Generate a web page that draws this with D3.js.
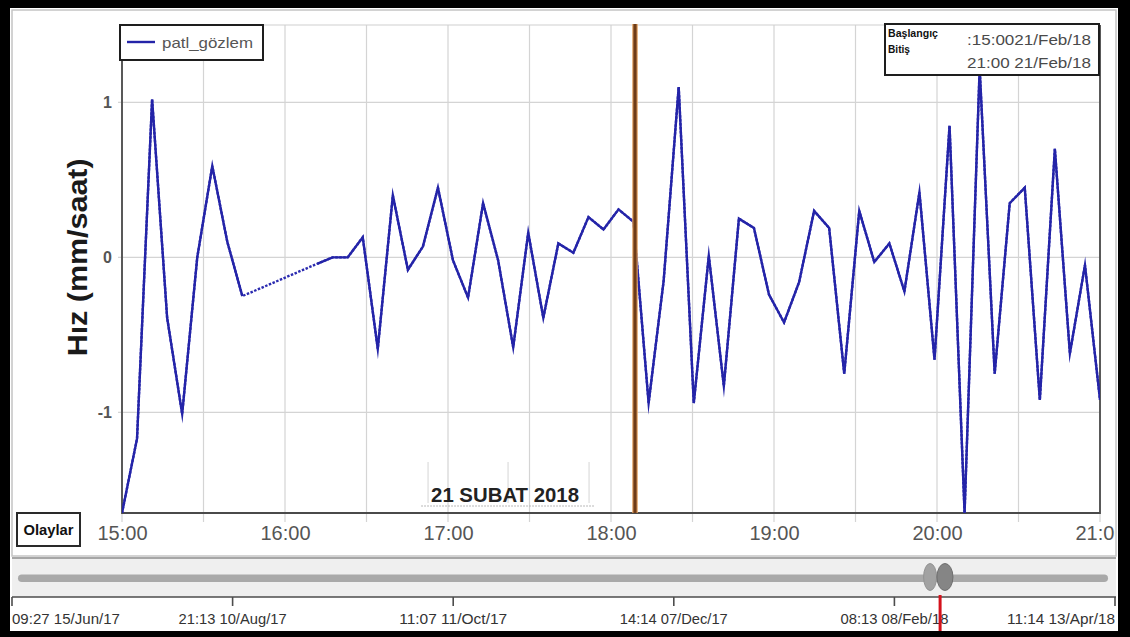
<!DOCTYPE html>
<html>
<head>
<meta charset="utf-8">
<script src="https://cdn.jsdelivr.net/npm/d3@7"></script>
<style>
  html, body { margin: 0; padding: 0; background: #000; }
  svg { display: block; font-family: "Liberation Sans", Arial, sans-serif; }
</style>
</head>
<body>
<svg id="chart" width="1130" height="637"></svg>
<script>
// Observation series: sample times on 21 Feb 2018 and velocity values (mm/saat).
// null marks samples with no reading; the gap is bridged with a dotted line.
const sampleTimes = [
  "15:00:00","15:05:32","15:11:05","15:16:37","15:22:09","15:27:42","15:33:14","15:38:46","15:44:18",
  "15:49:51","15:55:23","16:00:55","16:06:28",
  "16:12:00","16:17:32","16:23:05","16:28:37","16:34:09","16:39:42","16:45:14","16:50:46","16:56:18",
  "17:01:51","17:07:23","17:12:55","17:18:28","17:24:00","17:29:32","17:35:05","17:40:37","17:46:09",
  "17:51:42","17:57:14","18:02:46","18:08:18","18:13:51","18:19:23","18:24:55","18:30:28","18:36:00",
  "18:41:32","18:47:05","18:52:37","18:58:09","19:03:42","19:09:14","19:14:46","19:20:18","19:25:51",
  "19:31:23","19:36:55","19:42:28","19:48:00","19:53:32","19:59:05","20:04:37","20:10:09","20:15:42",
  "20:21:14","20:26:46","20:32:18","20:37:51","20:43:23","20:48:55","20:54:28","21:00:00"
];
const velocity = [
  -1.65, -1.17, 1.02, -0.39, -1.01, 0.00, 0.59, 0.10, -0.25,
  null, null, null, null,
  -0.04, 0.00, 0.00, 0.13, -0.59, 0.40, -0.08, 0.07, 0.45,
  -0.02, -0.26, 0.35, -0.02, -0.58, 0.16, -0.39, 0.09, 0.03,
  0.26, 0.18, 0.31, 0.23, -0.94, -0.15, 1.10, -0.94, 0.01,
  -0.83, 0.25, 0.19, -0.24, -0.42, -0.16, 0.30, 0.19, -0.75,
  0.30, -0.03, 0.09, -0.22, 0.42, -0.66, 0.85, -1.65, 1.22,
  -0.75, 0.35, 0.45, -0.92, 0.70, -0.62, -0.05, -0.92
];
const seriesName = "patl_gözlem";
const dayString = "2018-02-21";
const viewStart = "15:00:00";
const viewEnd = "21:00:00";
const eventTime = "18:08:50";
const eventLabel = "21 SUBAT 2018";
const eventLabelTime = "17:21:00";
const yTicks = [-1, 0, 1];
const yDomain = [-1.65, 1.5];
const yTitle = "Hız (mm/saat)";

// Overview timeline along the bottom slider
const overviewTicks = ["2017-06-15 09:27", "2017-08-10 21:13", "2017-10-11 11:07",
                       "2017-12-07 14:14", "2018-02-08 08:13", "2018-04-13 11:14"];
const overviewLabels = ["09:27 15/Jun/17", "21:13 10/Aug/17", "11:07 11/Oct/17",
                        "14:14 07/Dec/17", "08:13 08/Feb/18", "11:14 13/Apr/18"];
const infoLabels = ["Başlangıç", "Bitiş"];
const infoValues = [":15:0021/Feb/18", "21:00 21/Feb/18"];
const eventsButton = "Olaylar";

const parseFull = d3.timeParse("%Y-%m-%d %H:%M:%S");
const parseOverview = d3.timeParse("%Y-%m-%d %H:%M");
const at = t => parseFull(dayString + " " + t);

const data = sampleTimes.map((t, i) => ({ t: at(t), v: velocity[i] }));

const svg = d3.select("#chart");
const W = 1130, H = 637;
const plot = { left: 122, right: 1100, top: 25, bottom: 513 };

// frame
svg.append("rect").attr("width", W).attr("height", H).attr("fill", "#000");
svg.append("rect").attr("x", 10).attr("y", 8).attr("width", 1108).attr("height", 623).attr("fill", "#fff");
svg.append("rect").attr("x", 12).attr("y", 10).attr("width", 1104).attr("height", 546)
  .attr("fill", "#fff").attr("stroke", "#c4c4c4").attr("stroke-width", 1.5);

const x = d3.scaleTime().domain([at(viewStart), at(viewEnd)]).range([plot.left, plot.right]);
const y = d3.scaleLinear().domain(yDomain).range([plot.bottom, plot.top]);

// grid: vertical every 30 minutes, horizontal at the y ticks
const gridTimes = x.ticks(d3.timeMinute.every(30));
const g = svg.append("g");
g.selectAll("line.vg").data(gridTimes).join("line")
  .attr("x1", d => x(d)).attr("x2", d => x(d))
  .attr("y1", plot.top).attr("y2", plot.bottom + 9)
  .attr("stroke", "#d4d4d4").attr("stroke-width", 1.2);
g.selectAll("line.hg").data(yTicks).join("line")
  .attr("x1", plot.left - 4).attr("x2", plot.right)
  .attr("y1", d => y(d)).attr("y2", d => y(d))
  .attr("stroke", "#d4d4d4").attr("stroke-width", 1.2);

// plot border
svg.append("line").attr("x1", plot.left).attr("x2", plot.right).attr("y1", plot.top).attr("y2", plot.top)
  .attr("stroke", "#cfcfcf").attr("stroke-width", 1.2);
svg.append("path")
  .attr("d", `M${plot.left},${plot.top}V${plot.bottom}H${plot.right}V${plot.top}`)
  .attr("fill", "none").attr("stroke", "#4a4a4a").attr("stroke-width", 1.8);

// event date annotation
const ann = svg.append("g");
const annX = x(at(eventLabelTime));
ann.append("line").attr("x1", annX - 84).attr("x2", annX + 90).attr("y1", 506).attr("y2", 506)
  .attr("stroke", "#b8b8b8").attr("stroke-width", 1.2).attr("stroke-dasharray", "2,1");
[-77, 3, 84].forEach(dx => ann.append("line")
  .attr("x1", annX + dx).attr("x2", annX + dx).attr("y1", 462).attr("y2", 503)
  .attr("stroke", "#dcdcdc").attr("stroke-width", 1.2));
ann.append("text").attr("x", annX).attr("y", 502).attr("text-anchor", "middle")
  .attr("font-size", 20).attr("font-weight", "bold").attr("fill", "#222")
  .attr("textLength", 148).attr("lengthAdjust", "spacingAndGlyphs")
  .text(eventLabel);

// axis tick labels (the last one is cut by the panel edge)
const xAxis = d3.axisBottom(x).tickValues(x.ticks(d3.timeHour.every(1)))
  .tickFormat(d3.timeFormat("%H:%M")).tickSize(0).tickPadding(0);
svg.append("clipPath").attr("id", "xlabClip").append("rect")
  .attr("x", 0).attr("y", 515).attr("width", 1115).attr("height", 40);
const xWrap = svg.append("g").attr("clip-path", "url(#xlabClip)");
const xa = xWrap.append("g").attr("transform", `translate(0,${plot.bottom})`).call(xAxis);
xa.select(".domain").remove();
xa.selectAll("text").attr("dy", 0).attr("y", 27).attr("font-size", 20)
  .attr("fill", "#555").attr("font-family", "Liberation Sans, Arial, sans-serif");

const yAxis = d3.axisLeft(y).tickValues(yTicks).tickFormat(d => String(d)).tickSize(0).tickPadding(0);
const ya = svg.append("g").attr("transform", `translate(${plot.left - 10},0)`).call(yAxis);
ya.select(".domain").remove();
ya.selectAll("text").attr("font-size", 16).attr("font-weight", "bold").attr("fill", "#555")
  .attr("font-family", "Liberation Sans, Arial, sans-serif");

svg.append("text").attr("transform", `translate(87,${y(0)}) rotate(-90)`)
  .attr("text-anchor", "middle").attr("font-size", 27).attr("font-weight", "bold").attr("fill", "#1a1a1a")
  .attr("textLength", 198).attr("lengthAdjust", "spacingAndGlyphs")
  .text(yTitle);

// series
svg.append("clipPath").attr("id", "plotClip").append("rect")
  .attr("x", plot.left).attr("y", plot.top).attr("width", plot.right - plot.left).attr("height", plot.bottom - plot.top);
const lineGen = d3.line().defined(d => d.v !== null).x(d => x(d.t)).y(d => y(d.v));
const series = svg.append("g").attr("clip-path", "url(#plotClip)");
series.append("path").datum(data.filter(d => d.v !== null))
  .attr("d", lineGen).attr("fill", "none").attr("stroke", "#2b2bb0")
  .attr("stroke-width", 2.4).attr("stroke-dasharray", "2.5,1.5");
series.append("path").datum(data)
  .attr("d", lineGen).attr("fill", "none").attr("stroke", "#2424a8")
  .attr("stroke-width", 2.4).attr("stroke-linejoin", "miter").attr("stroke-miterlimit", 10);

// event marker
const ex = x(at(eventTime));
svg.append("line").attr("x1", ex).attr("x2", ex).attr("y1", plot.top - 1).attr("y2", plot.bottom)
  .attr("stroke", "#e0a060").attr("stroke-width", 5.5);
svg.append("line").attr("x1", ex).attr("x2", ex).attr("y1", plot.top - 1).attr("y2", plot.bottom)
  .attr("stroke", "#6e3c18").attr("stroke-width", 3.2);

// legend
const lg = svg.append("g");
lg.append("rect").attr("x", 120).attr("y", 25).attr("width", 143).attr("height", 35)
  .attr("fill", "#fff").attr("stroke", "#1e1e1e").attr("stroke-width", 2);
lg.append("line").attr("x1", 127).attr("x2", 155).attr("y1", 42).attr("y2", 42)
  .attr("stroke", "#2424a8").attr("stroke-width", 2.4);
lg.append("text").attr("x", 162).attr("y", 47.5).attr("font-size", 15).attr("fill", "#555")
  .attr("textLength", 91).attr("lengthAdjust", "spacingAndGlyphs").text(seriesName);

// start / end info box
const ib = svg.append("g");
ib.append("rect").attr("x", 885).attr("y", 24).attr("width", 214).attr("height", 51)
  .attr("fill", "#fff").attr("stroke", "#1e1e1e").attr("stroke-width", 2);
ib.selectAll("text.lab").data(infoLabels).join("text")
  .attr("x", 888).attr("y", (d, i) => 37 + i * 16).attr("font-size", 11).attr("font-weight", "bold")
  .attr("fill", "#111").attr("textLength", (d, i) => i === 0 ? 50 : 22).attr("lengthAdjust", "spacingAndGlyphs")
  .text(d => d);
ib.selectAll("text.val").data(infoValues).join("text")
  .attr("x", 1091).attr("y", (d, i) => 45 + i * 23).attr("text-anchor", "end").attr("font-size", 15)
  .attr("fill", "#4a4a4a").attr("textLength", 124).attr("lengthAdjust", "spacingAndGlyphs")
  .text(d => d);

// events button
svg.append("rect").attr("x", 17).attr("y", 513).attr("width", 63).attr("height", 33)
  .attr("fill", "#fff").attr("stroke", "#2a2a2a").attr("stroke-width", 2);
svg.append("text").attr("x", 48.5).attr("y", 534.5).attr("text-anchor", "middle")
  .attr("font-size", 14).attr("font-weight", "bold").attr("fill", "#111")
  .attr("textLength", 50).attr("lengthAdjust", "spacingAndGlyphs").text(eventsButton);

// slider panel
svg.append("rect").attr("x", 12).attr("y", 558).attr("width", 1104).attr("height", 39).attr("fill", "#efefef");
svg.append("line").attr("x1", 12).attr("x2", 1116).attr("y1", 558).attr("y2", 558)
  .attr("stroke", "#a6a6a6").attr("stroke-width", 2.2);
svg.append("rect").attr("x", 18).attr("y", 574.5).attr("width", 1090).attr("height", 7.5).attr("rx", 3.75)
  .attr("fill", "#a9a9a9");

// overview scale: labelled dates evenly spaced, piecewise linear between them
const ovDates = overviewTicks.map(parseOverview);
const ovX = d3.scaleTime().domain(ovDates).range(d3.range(ovDates.length).map(i => 12 + i * 1103 / (ovDates.length - 1)));

const selStart = ovX(at(viewStart)), selEnd = ovX(at(viewEnd));
svg.append("ellipse").attr("cx", selStart - 10).attr("cy", 577).attr("rx", 6.5).attr("ry", 13.5)
  .attr("fill", "#a2a2a2").attr("stroke", "#929292");
svg.append("ellipse").attr("cx", selEnd + 4).attr("cy", 577).attr("rx", 8).attr("ry", 13.5)
  .attr("fill", "#858585").attr("stroke", "#6e6e6e");

const ov = svg.append("g");
ov.append("line").attr("x1", 12).attr("x2", 1116).attr("y1", 597).attr("y2", 597)
  .attr("stroke", "#4d4d4d").attr("stroke-width", 1.6);
ov.selectAll("line.tk").data(ovDates).join("line")
  .attr("x1", d => ovX(d)).attr("x2", d => ovX(d)).attr("y1", 597).attr("y2", 606)
  .attr("stroke", "#4d4d4d").attr("stroke-width", 1.6);
ov.selectAll("text").data(ovDates).join("text")
  .attr("x", d => ovX(d)).attr("y", 624).attr("font-size", 14).attr("fill", "#333")
  .attr("text-anchor", (d, i) => i === 0 ? "start" : (i === ovDates.length - 1 ? "end" : "middle"))
  .attr("textLength", 108).attr("lengthAdjust", "spacingAndGlyphs")
  .text((d, i) => overviewLabels[i]);

// current-view marker on the overview
svg.append("line").attr("x1", selStart).attr("x2", selStart).attr("y1", 595).attr("y2", 631)
  .attr("stroke", "#d4121c").attr("stroke-width", 3);
</script>
</body>
</html>
